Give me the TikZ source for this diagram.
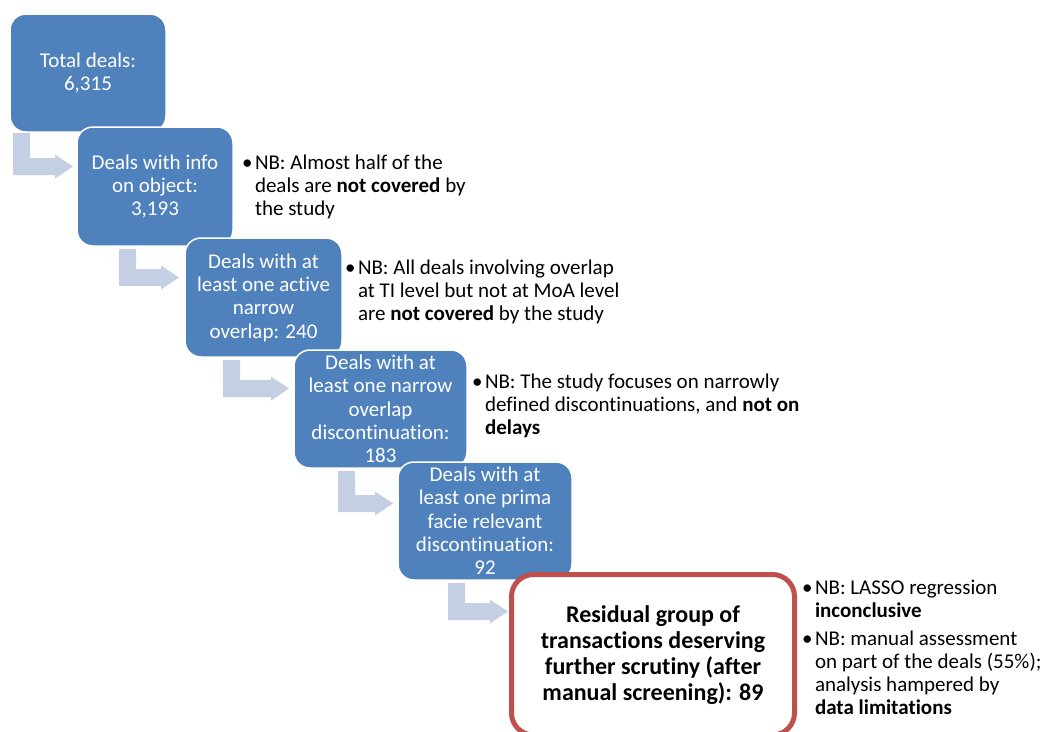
\documentclass[tikz,border=0pt]{standalone}
\usepackage{fontspec}
\setmainfont[Ligatures=NoCommon]{Carlito}
\usetikzlibrary{calc}

\definecolor{boxblue}{RGB}{79,129,189}
\definecolor{arrowgray}{RGB}{196,207,227}
\definecolor{framered}{RGB}{192,80,77}

\tikzset{
  stage/.style={rectangle, rounded corners=16pt, fill=boxblue, draw=white,
    line width=1.5pt, text=white, align=center, inner sep=0pt, outer sep=0pt,
    font=\fontsize{21}{23.3}\selectfont},
  result/.style={rectangle, rounded corners=22pt, draw=framered, fill=white,
    line width=5pt, align=center, inner sep=0pt, outer sep=0pt,
    font=\bfseries\fontsize{24}{26}\selectfont},
  note/.style={anchor=base west, inner sep=0pt, outer sep=0pt,
    font=\fontsize{21}{23.3}\selectfont},
  bent/.style={fill=arrowgray}
}

% bent block arrow: #1 = top-left corner of the stem, #2 = arrow tip
\newcommand{\bentarrow}[2]{%
  \fill[bent] let \p1=#1, \p2=#2 in
    (\x1,\y1) -- (\x1+17pt,\y1) -- (\x1+17pt,\y2+8.5pt)
    -- (\x2-18pt,\y2+8.5pt) -- (\x2-18pt,\y2+12pt) -- (\x2,\y2)
    -- (\x2-18pt,\y2-12pt) -- (\x2-18pt,\y2-8.5pt) -- (\x1,\y2-8.5pt) -- cycle;}

% bullet column for the side notes
\newcommand{\nb}{\makebox[13pt][l]{\textbullet}}

\begin{document}
\begin{tikzpicture}[x=1pt, y=-1pt]
\useasboundingbox (0,0) rectangle (1046,731);

% funnel stages
\node[stage, minimum width=156pt, minimum height=118pt] (b1) at (88,73)
  {Total deals:\\6,315};
\node[stage, minimum width=156pt, minimum height=119pt] (b2) at (155,186.5)
  {Deals with info\\on object:\\3,193};
\node[stage, minimum width=157pt, minimum height=119pt] (b3) at (263.5,297.5)
  {Deals with at\\least one active\\narrow\\overlap: 240};
\node[stage, minimum width=173pt, minimum height=118pt] (b4) at (380.5,409)
  {Deals with at\\least one narrow\\overlap\\discontinuation:\\183};
\node[stage, minimum width=174pt, minimum height=118pt] (b5) at (485,521)
  {Deals with at\\least one prima\\facie relevant\\discontinuation:\\92};

\begin{scope}
  \clip (0,0) rectangle (1046,731);
  \node[result, minimum width=283pt, minimum height=160.5pt] (b6) at (653,654.75)
    {Residual group of\\transactions deserving\\further scrutiny (after\\manual screening): 89};
\end{scope}

% step arrows between stages
\bentarrow{($(b1.south west)+(3,1)$)}{($(b2.north west)+(-4,39.5)$)}
\bentarrow{($(b2.south west)+(42,3)$)}{($(b3.north west)+(-6,39.5)$)}
\bentarrow{($(b3.south west)+(38,3)$)}{($(b4.north west)+(-5,38.5)$)}
\bentarrow{($(b4.south west)+(44,3)$)}{($(b5.north west)+(-5,41.5)$)}
\bentarrow{($(b5.south west)+(50,3)$)}{($(b6.north west)+(-3.5,37)$)}

% side notes
\node[note] (n1) at (242,169) {\begin{tabular}[t]{@{}l@{}l@{}}
  \nb & NB: Almost half of the\\
      & deals are \textbf{not covered} by\\
      & the study\end{tabular}};
\node[note] (n2) at (345,274) {\begin{tabular}[t]{@{}l@{}l@{}}
  \nb & NB: All deals involving overlap\\
      & at TI level but not at MoA level\\
      & are \textbf{not covered} by the study\end{tabular}};
\node[note] (n3) at (472,388) {\begin{tabular}[t]{@{}l@{}l@{}}
  \nb & NB: The study focuses on narrowly\\
      & defined discontinuations, and \textbf{not on}\\
      & \textbf{delays}\end{tabular}};
\node[note] (n4) at (802,594) {\begin{tabular}[t]{@{}l@{}l@{}}
  \nb & NB: LASSO regression\\
      & \textbf{inconclusive}\\[4.4pt]
  \nb & NB: manual assessment\\
      & on part of the deals (55\%);\\
      & analysis hampered by\\
      & \textbf{data limitations}\end{tabular}};
\end{tikzpicture}
\end{document}
